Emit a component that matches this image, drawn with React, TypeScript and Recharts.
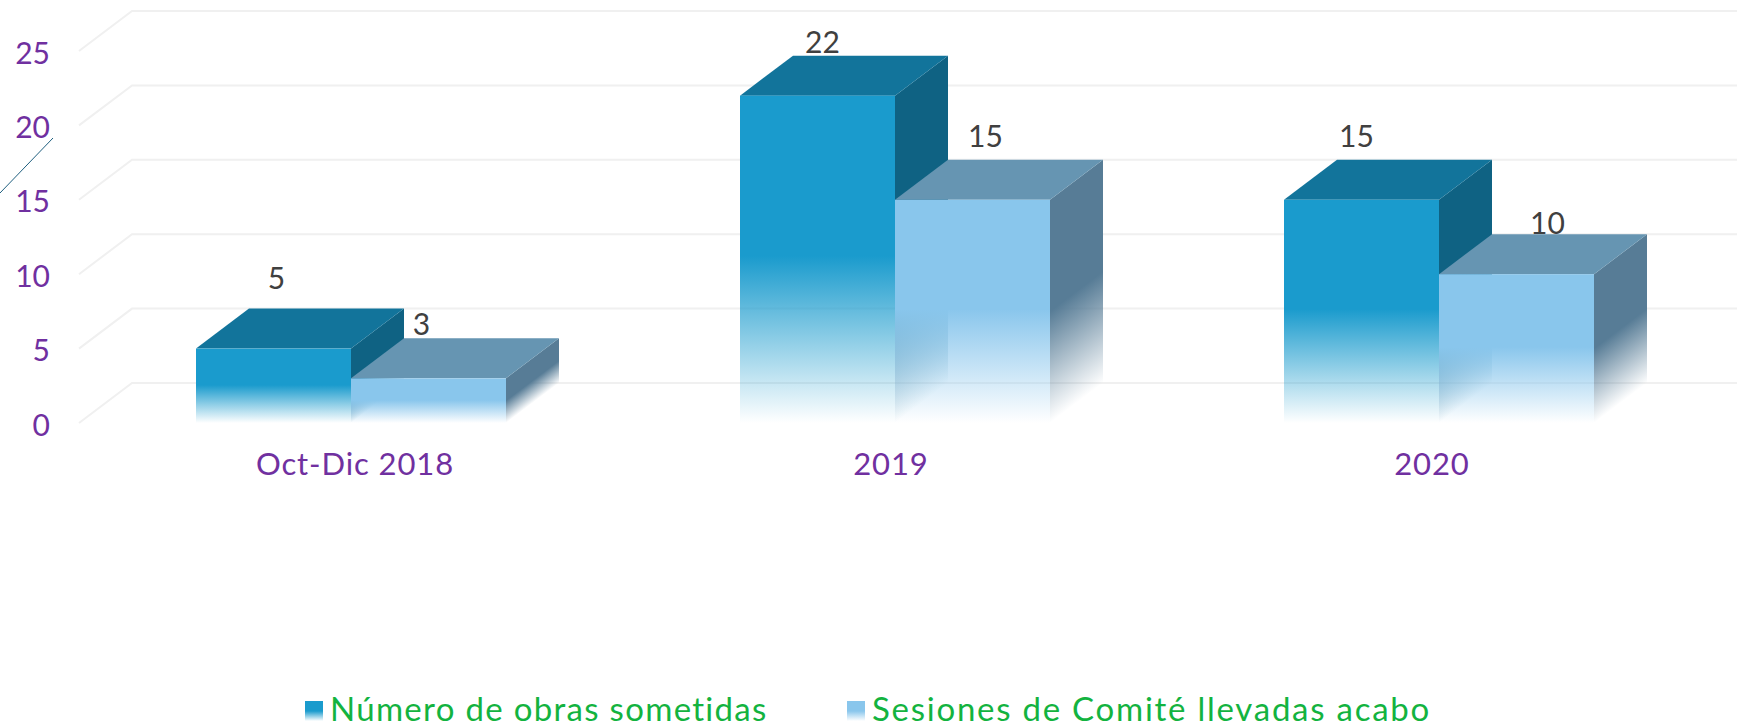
import { BarChart, Bar, XAxis, YAxis, CartesianGrid, Legend, LabelList } from 'recharts';

const categories = ['Oct-Dic 2018', '2019', '2020'];
const obrasSometidas = [5, 22, 15];
const sesionesComite = [3, 15, 10];
const yTicks = [0, 5, 10, 15, 20, 25];

const SERIES_OBRAS = 'Número de obras sometidas';
const SERIES_SESIONES = 'Sesiones de Comité llevadas acabo';

const chartData = categories.map((name, i) => ({
  name,
  obras: obrasSometidas[i],
  sesiones: sesionesComite[i],
}));

// the labels were hand-placed in the original, so they need a nudge each
const obrasLabelNudge = [[3, -32], [5, -15], [-5, -25]];
const sesionesLabelNudge = [[-7, -15], [13, -25], [31, -12]];
const tickNudge = [4, -4, -7];

const DEPTH_X = 53;
const DEPTH_Y = 40;
const FONT = 'Lato, sans-serif';

const DARK = { front: '#1a9bcd', top: '#12749b', side: '#0f6283' };
const LIGHT = { front: '#89c6ec', top: '#6695b2', side: '#577c96' };

function makeBox(colors: typeof DARK, prefix: string) {
  return function Box3D(props: any) {
    const { x, y, width: w, height: h, index } = props;
    const right = x + w;
    const bottom = y + h;
    // fade of the side face follows the slope of the depth edge
    const len = Math.hypot(DEPTH_X, DEPTH_Y);
    const dist = ((h * 0.5) * DEPTH_X) / len;
    const nx = DEPTH_Y / len;
    const ny = DEPTH_X / len;
    const frontId = `${prefix}-front-${index}`;
    const sideId = `${prefix}-side-${index}`;
    return (
      <g>
        <defs>
          <linearGradient id={frontId} x1="0" y1="0" x2="0" y2="1">
            <stop offset="0.49" stopColor={colors.front} stopOpacity={1} />
            <stop offset="1" stopColor={colors.front} stopOpacity={0} />
          </linearGradient>
          <linearGradient
            id={sideId}
            gradientUnits="userSpaceOnUse"
            x1={right - nx * dist}
            y1={bottom - ny * dist}
            x2={right}
            y2={bottom}
          >
            <stop offset="0" stopColor={colors.side} stopOpacity={1} />
            <stop offset="1" stopColor={colors.side} stopOpacity={0} />
          </linearGradient>
        </defs>
        <path
          d={`M${right},${y}L${right + DEPTH_X},${y - DEPTH_Y}L${right + DEPTH_X},${bottom - DEPTH_Y}L${right},${bottom}Z`}
          fill={`url(#${sideId})`}
        />
        <path
          d={`M${x},${y}L${x + DEPTH_X},${y - DEPTH_Y}L${right + DEPTH_X},${y - DEPTH_Y}L${right},${y}Z`}
          fill={colors.top}
        />
        <rect x={x} y={y} width={w} height={h} fill={`url(#${frontId})`} />
      </g>
    );
  };
}

const makeValueLabel = (nudge: number[][]) =>
  function ValueLabel(props: any) {
    const { x, y, width, value, index } = props;
    const [dx, dy] = nudge[index];
    return (
      <text
        x={x + width / 2 + dx}
        y={y - DEPTH_Y + dy}
        textAnchor="middle"
        dominantBaseline="central"
        fontFamily={FONT}
        fontWeight={400}
        fontSize={30}
        fill="#404040"
      >
        {value}
      </text>
    );
  };

function GridLine(props: any) {
  const { x1, y1, key } = props;
  return (
    <path
      key={key ?? y1}
      d={`M${x1},${y1}L${x1 + DEPTH_X},${y1 - DEPTH_Y}L1737,${y1 - DEPTH_Y}`}
      fill="none"
      stroke="#f0f0f0"
      strokeWidth={2}
    />
  );
}

function CategoryTick(props: any) {
  const { x, y, payload, index } = props;
  return (
    <text
      x={x + tickNudge[index]}
      y={y - 2}
      textAnchor="middle"
      dominantBaseline="central"
      fontFamily={FONT}
      fontWeight={400}
      fontSize={31}
      letterSpacing={0.9}
      fill="#7030a0"
    >
      {payload.value}
    </text>
  );
}

function LegendBlock() {
  const items = [
    { label: SERIES_OBRAS, color: DARK.front, left: 305, textLeft: 330, spacing: 1.3 },
    { label: SERIES_SESIONES, color: LIGHT.front, left: 847, textLeft: 872, spacing: 1.75 },
  ];
  return (
    <div style={{ position: 'relative', width: 1737, height: 36 }}>
      {items.map((it) => (
        <div key={it.label}>
          <div
            style={{
              position: 'absolute',
              left: it.left,
              top: 11,
              width: 18,
              height: 20,
              background: `linear-gradient(${it.color} 50%, rgba(255,255,255,0))`,
            }}
          />
          <div
            style={{
              position: 'absolute',
              left: it.textLeft,
              top: 0,
              lineHeight: '36px',
              fontFamily: FONT,
              fontWeight: 400,
              fontSize: 33,
              letterSpacing: it.spacing,
              color: '#13b33f',
              whiteSpace: 'nowrap',
            }}
          >
            {it.label}
          </div>
        </div>
      ))}
    </div>
  );
}

export default function App() {
  return (
    <div style={{ position: 'absolute', left: 0, top: 0, width: 1737, height: 728, overflow: 'hidden', background: '#fff' }}>
      <BarChart
        width={1737}
        height={728}
        data={chartData}
        margin={{ top: 51, right: 26, bottom: 245, left: 0 }}
        barCategoryGap={117}
        barGap={0}
      >
        <CartesianGrid vertical={false} horizontal={GridLine as any} />
        <XAxis
          dataKey="name"
          height={60}
          axisLine={false}
          tickLine={false}
          tickSize={0}
          tickMargin={42}
          tick={CategoryTick as any}
          interval={0}
        />
        <YAxis
          width={79}
          domain={[0, 25]}
          ticks={yTicks}
          axisLine={false}
          tickLine={false}
          tickSize={0}
          tickMargin={29}
          tick={{ fontFamily: FONT, fontWeight: 400, fontSize: 30, fill: '#7030a0', dy: 2 }}
        />
        <Legend
          layout="horizontal"
          verticalAlign="middle"
          wrapperStyle={{ position: 'absolute', left: 0, top: 690, width: 1737, height: 36 }}
          content={<LegendBlock />}
        />
        <Bar dataKey="obras" name={SERIES_OBRAS} shape={makeBox(DARK, 'obras')} isAnimationActive={false}>
          <LabelList dataKey="obras" content={makeValueLabel(obrasLabelNudge)} />
        </Bar>
        <Bar dataKey="sesiones" name={SERIES_SESIONES} shape={makeBox(LIGHT, 'sesiones')} isAnimationActive={false}>
          <LabelList dataKey="sesiones" content={makeValueLabel(sesionesLabelNudge)} />
        </Bar>
      </BarChart>
      {/* stray connector line left over in the original slide */}
      <svg width={60} height={200} style={{ position: 'absolute', left: 0, top: 0 }}>
        <line x1={0} y1={193} x2={53} y2={138} stroke="#1f5f7f" strokeWidth={1} />
      </svg>
    </div>
  );
}
